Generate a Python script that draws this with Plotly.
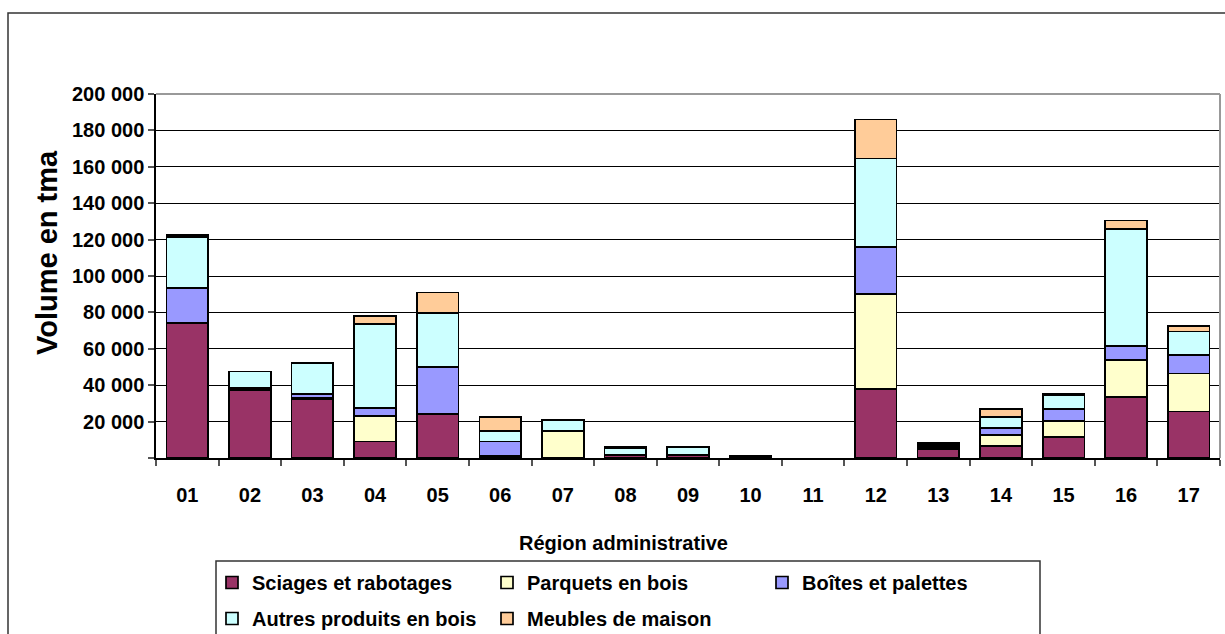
import plotly.graph_objects as go

# Volume by administrative region, stacked by product type
regions = ["01", "02", "03", "04", "05", "06", "07", "08", "09",
           "10", "11", "12", "13", "14", "15", "16", "17"]

sciages = [74000, 37500, 32500, 9000, 24000, 1000, 0, 1500, 1500,
           800, 0, 38000, 5000, 6500, 11500, 33500, 25500]
parquets = [0, 0, 500, 14000, 0, 0, 15000, 0, 0,
            0, 0, 52000, 800, 6000, 9000, 20500, 21000]
boites = [19500, 1000, 2000, 4500, 26000, 8000, 0, 500, 0,
          0, 0, 26000, 800, 4000, 6500, 7500, 10000]
autres = [28000, 9000, 17000, 46000, 29500, 6000, 6000, 3500, 4500,
          200, 0, 48500, 800, 6000, 7500, 64500, 13000]
meubles = [1000, 0, 500, 4500, 11500, 7500, 0, 800, 0,
           0, 0, 21500, 800, 4300, 1000, 4500, 3000]

series_names = ["Sciages et rabotages", "Parquets en bois", "Boîtes et palettes",
                "Autres produits en bois", "Meubles de maison"]
series_values = [sciages, parquets, boites, autres, meubles]
series_colors = ["#993366", "#FFFFCC", "#9999FF", "#CCFFFF", "#FFCC99"]
# first three entries on the first legend row, the rest on the second
series_legend = ["legend", "legend", "legend", "legend2", "legend2"]

y_tickvals = [0, 20000, 40000, 60000, 80000, 100000, 120000, 140000, 160000, 180000, 200000]
y_ticktext = ["", "20 000", "40 000", "60 000", "80 000", "100 000",
              "120 000", "140 000", "160 000", "180 000", "200 000"]

W, H = 1225, 634
L, R, T, B = 156, 5, 94, 176
PW, PH = W - L - R, H - T - B


def px_x(x):
    return (x - L) / PW


def px_y(y):
    return (H - B - y) / PH


FONT = "Liberation Sans, Arial, sans-serif"
TEXT_FONT = dict(family=FONT, size=20, color="#000000", weight="bold")

fig = go.Figure()
for name, vals, col, leg in zip(series_names, series_values, series_colors, series_legend):
    fig.add_trace(go.Bar(
        x=regions, y=[v if v else None for v in vals], name=name, legend=leg,
        marker=dict(color=col, line=dict(color="#000000", width=1.7)),
    ))

legend_common = dict(
    orientation="h", xanchor="left", yanchor="top",
    borderwidth=0, bgcolor="rgba(0,0,0,0)",
    entrywidth=230, traceorder="normal", font=TEXT_FONT,
)

fig.update_layout(
    width=W, height=H,
    margin=dict(l=L, r=R, t=T, b=B, autoexpand=False),
    barmode="stack", bargap=0.334,
    plot_bgcolor="white", paper_bgcolor="white",
    separators=", ",
    font=TEXT_FONT,
    showlegend=True,
    legend=dict(x=px_x(212), y=px_y(563), **legend_common),
    legend2=dict(x=px_x(212), y=px_y(599), **legend_common),
    xaxis=dict(
        type="category", showgrid=False, showline=True, linecolor="#000000", linewidth=1.5,
        ticks="outside", tickson="boundaries", ticklen=6, tickcolor="#555555", tickwidth=1.5,
        ticklabelstandoff=18, range=[-0.5, 16.5],
    ),
    yaxis=dict(
        range=[0, 200000], tickvals=y_tickvals, ticktext=y_ticktext,
        showgrid=True, gridcolor="#000000", gridwidth=1,
        showline=True, linecolor="#000000", linewidth=1.5,
        ticks="outside", ticklen=6, tickcolor="#555555", tickwidth=1.5,
        zeroline=False,
    ),
    annotations=[
        dict(text="Volume en tma", textangle=-90, showarrow=False,
             xref="paper", yref="paper", x=px_x(47), y=px_y(253),
             xanchor="center", yanchor="middle",
             font=dict(family=FONT, size=29, color="#000000", weight="bold")),
        dict(text="Région administrative", showarrow=False,
             xref="paper", yref="paper", x=px_x(623), y=px_y(543),
             xanchor="center", yanchor="middle", font=TEXT_FONT),
    ],
    shapes=[
        # outer chart frame
        dict(type="rect", xref="paper", yref="paper",
             x0=px_x(8), x1=px_x(1232), y0=px_y(13), y1=px_y(660),
             line=dict(color="#333333", width=1.5), layer="below"),
        # legend frame
        dict(type="rect", xref="paper", yref="paper",
             x0=px_x(216), x1=px_x(1040), y0=px_y(561), y1=px_y(660),
             line=dict(color="#333333", width=1.5), layer="below"),
        # plot area border (top and right)
        dict(type="line", xref="paper", yref="paper", x0=0, x1=1, y0=1, y1=1,
             line=dict(color="#999999", width=2)),
        dict(type="line", xref="paper", yref="paper", x0=1, x1=1, y0=0, y1=1,
             line=dict(color="#999999", width=2)),
    ],
)

fig.write_html("out.html")
